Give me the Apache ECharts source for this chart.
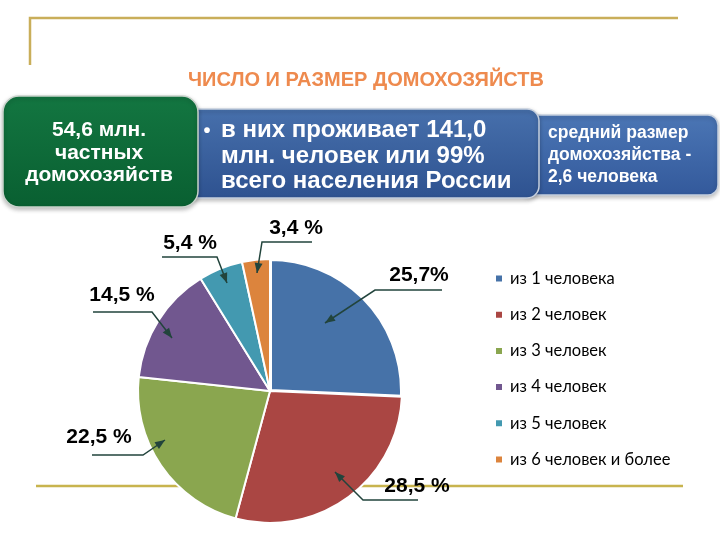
<!DOCTYPE html>
<html>
<head>
<meta charset="utf-8">
<script src="https://cdn.jsdelivr.net/npm/echarts@6/dist/echarts.min.js"></script>
<style>
  html, body { margin: 0; padding: 0; background: #ffffff; }
  #chart { width: 720px; height: 540px; }
</style>
</head>
<body>
<div id="chart"></div>
<script>
// ---- data ----
const categories = ['из 1 человека', 'из 2 человек', 'из 3 человек', 'из 4 человек', 'из 5 человек', 'из 6 человек и более'];
const shares = [25.7, 28.5, 22.5, 14.5, 5.4, 3.4];
const shareLabels = ['25,7%', '28,5 %', '22,5 %', '14,5 %', '5,4 %', '3,4 %'];
const titleText = 'ЧИСЛО И РАЗМЕР ДОМОХОЗЯЙСТВ';
const boxGreenLines = ['54,6 млн.', 'частных', 'домохозяйств'];
const boxBlueLines = ['в них проживает 141,0', 'млн. человек или 99%', 'всего населения России'];
const boxRightLines = ['средний размер', 'домохозяйства -', '2,6 человека'];

// ---- styling / layout ----
const colors = ['#4672A8', '#AA4643', '#8AA64F', '#71578F', '#4399B0', '#DC843D'];
const calloutColor = '#22443C';
// callout layout: label text centre, arrow tip, elbow, end of underline
const callouts = [
  { text: [419, 275], tip: [325, 323], elbow: [375, 290], end: [442, 290] },
  { text: [417, 486], tip: [335, 472], elbow: [363, 500], end: [418, 500] },
  { text: [99, 437],  tip: [165, 440], elbow: [143, 455], end: [92, 455] },
  { text: [122, 295], tip: [172, 338], elbow: [152, 312], end: [93, 312] },
  { text: [190, 243], tip: [227, 283], elbow: [217, 257], end: [162, 257] },
  { text: [296, 228], tip: [257, 273], elbow: [262, 242], end: [312, 242] }
];

function arrowHead(c) {
  const dx = c.tip[0] - c.elbow[0], dy = c.tip[1] - c.elbow[1];
  const len = Math.sqrt(dx * dx + dy * dy);
  const ux = dx / len, uy = dy / len;
  const L = 10, W = 4;
  const bx = c.tip[0] - ux * L, by = c.tip[1] - uy * L;
  return [c.tip, [bx - uy * W, by + ux * W], [bx + uy * W, by - ux * W]];
}

const chart = echarts.init(document.getElementById('chart'), null, { renderer: 'canvas' });

const graphics = [
  // gold frame lines
  { type: 'polyline', z: 0, shape: { points: [[30, 65], [30, 18], [678, 18]] },
    style: { stroke: '#C9AE5A', lineWidth: 2.5, fill: null } },
  { type: 'line', z: 0, shape: { x1: 36, y1: 486, x2: 683, y2: 486 },
    style: { stroke: '#C8B44E', lineWidth: 2.5 } },
  // title
  { type: 'text', z: 5, style: { x: 366, y: 80, text: titleText, align: 'center', verticalAlign: 'middle',
      fill: '#EE8A4E', font: 'bold 20px "Liberation Sans", Arial, sans-serif' } },
  // right box
  { type: 'rect', z: 5, shape: { x: 520, y: 115, width: 198, height: 80, r: 10 },
    style: { fill: new echarts.graphic.LinearGradient(0, 0, 0, 1, [
        { offset: 0, color: '#4B76B5' }, { offset: 1, color: '#33599B' }]),
      stroke: '#C5CFDE', lineWidth: 1.5, shadowBlur: 4, shadowColor: 'rgba(0,0,0,0.25)', shadowOffsetY: 2 } },
  { type: 'text', z: 6, style: { x: 548, y: 155, text: boxRightLines.join('\n'), align: 'left', verticalAlign: 'middle',
      lineHeight: 22, fill: '#ffffff', font: 'bold 17.5px "Liberation Sans", Arial, sans-serif' } },
  // middle box
  { type: 'rect', z: 7, shape: { x: 180, y: 109, width: 359, height: 89, r: 12 },
    style: { fill: new echarts.graphic.LinearGradient(0, 0, 0, 1, [
        { offset: 0, color: '#4770AC' }, { offset: 1, color: '#2E5290' }]),
      stroke: '#C5CFDE', lineWidth: 1.5, shadowBlur: 4, shadowColor: 'rgba(0,0,0,0.25)', shadowOffsetY: 2 } },
  { type: 'text', z: 8, style: { x: 207, y: 131, text: '•', align: 'center', verticalAlign: 'middle',
      fill: '#ffffff', font: 'bold 20px "Liberation Sans", Arial, sans-serif' } },
  { type: 'text', z: 8, style: { x: 221, y: 156, text: boxBlueLines.join('\n'), align: 'left', verticalAlign: 'middle',
      lineHeight: 25.5, fill: '#ffffff', font: 'bold 24px "Liberation Sans", Arial, sans-serif' } },
  // green box
  { type: 'rect', z: 9, shape: { x: 3, y: 96, width: 195, height: 111, r: 16 },
    style: { fill: new echarts.graphic.LinearGradient(0, 0, 0, 1, [
        { offset: 0, color: '#137641' }, { offset: 1, color: '#095F31' }]),
      stroke: '#C9D3CC', lineWidth: 1.5, shadowBlur: 4, shadowColor: 'rgba(0,0,0,0.25)', shadowOffsetY: 2 } },
  { type: 'text', z: 10, style: { x: 99, y: 153, text: boxGreenLines.join('\n'), align: 'center', verticalAlign: 'middle',
      lineHeight: 22.5, fill: '#ffffff', font: 'bold 21px "Liberation Sans", Arial, sans-serif' } }
];

// callout leader lines with arrowheads (drawn above the slices)
callouts.forEach(function (c) {
  graphics.push({ type: 'polyline', z: 20, shape: { points: [c.end, c.elbow, c.tip] },
    style: { stroke: calloutColor, lineWidth: 1.5, fill: null } });
  graphics.push({ type: 'polygon', z: 21, shape: { points: arrowHead(c) }, style: { fill: calloutColor } });
});

chart.setOption({
  animation: false,
  backgroundColor: '#ffffff',
  color: colors,
  graphic: graphics,
  legend: {
    orient: 'vertical',
    left: 494,
    top: 270,
    padding: 0,
    itemWidth: 8,
    itemHeight: 8,
    itemGap: 19.2,
    icon: 'rect',
    selectedMode: false,
    data: categories,
    textStyle: { fontFamily: 'Lato, "Open Sans", sans-serif', fontSize: 16.5, lineHeight: 16, color: '#000000', padding: [0, 0, 0, 2] }
  },
  series: [{
    type: 'pie',
    center: [270, 391],
    radius: 132,
    startAngle: 90,
    clockwise: true,
    avoidLabelOverlap: false,
    selectedMode: false,
    itemStyle: { borderColor: '#ffffff', borderWidth: 2 },
    label: {
      show: true,
      position: 'outside',
      color: '#000000',
      fontFamily: '"Liberation Sans", Arial, sans-serif',
      fontWeight: 'bold',
      fontSize: 21,
      formatter: function (p) { return shareLabels[p.dataIndex]; }
    },
    labelLine: { show: false },
    labelLayout: function (params) {
      const c = callouts[params.dataIndex];
      return { x: c.text[0], y: c.text[1], align: 'center', verticalAlign: 'middle' };
    },
    emphasis: { disabled: true },
    data: categories.map(function (name, i) {
      const item = { name: name, value: shares[i] };
      if (i === 0) { item.itemStyle = { borderWidth: 4 }; }
      return item;
    })
  }]
});
</script>
</body>
</html>
